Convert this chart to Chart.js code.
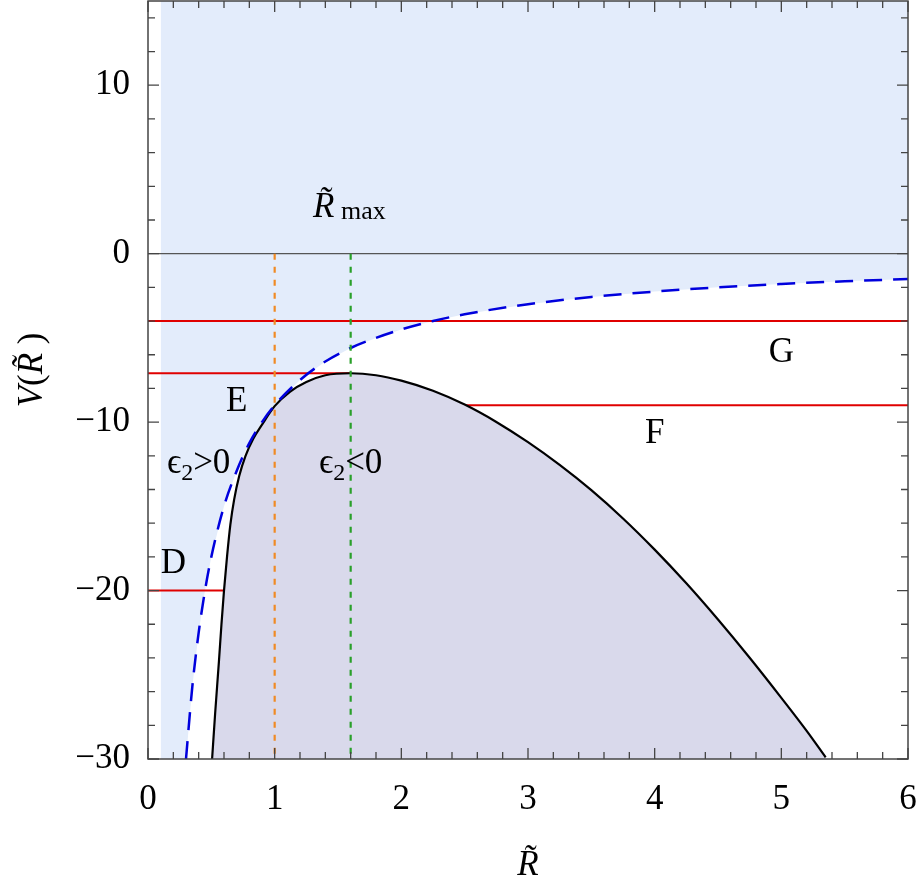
<!DOCTYPE html>
<html>
<head>
<meta charset="utf-8">
<script src="https://cdn.jsdelivr.net/npm/chart.js@4/dist/chart.umd.min.js"></script>
<style>
  html, body { margin: 0; padding: 0; background: #fff; }
  #wrap { width: 917px; height: 888px; }
</style>
</head>
<body>
<div id="wrap"><canvas id="potChart" width="917" height="888"></canvas></div>
<script>
// potential V(R) (black curve)
const potR = [0.506, 0.53, 0.56, 0.58, 0.60, 0.625, 0.65, 0.68, 0.72, 0.77, 0.83, 0.90, 1.00, 1.12, 1.25, 1.40, 1.60, 1.80, 2.00, 2.25, 2.50, 2.75, 3.00, 3.25, 3.50, 3.75, 4.00, 4.25, 4.50, 4.75, 5.00, 5.20, 5.35];
const potV = [-30, -27.3, -24.2, -22.0, -20.0, -17.9, -16.1, -14.6, -13.2, -12.0, -11.0, -10.15, -9.05, -8.2, -7.62, -7.22, -7.1, -7.22, -7.54, -8.14, -8.96, -9.99, -11.19, -12.54, -14.04, -15.72, -17.57, -19.57, -21.72, -23.99, -26.37, -28.33, -29.9];

// blue dashed boundary curve
const bndR = [0.30, 0.35, 0.40, 0.45, 0.50, 0.60, 0.70, 0.80, 0.90, 1.00, 1.20, 1.40, 1.60, 1.80, 2.00, 2.25, 2.50, 3.00, 3.50, 4.00, 4.50, 5.00, 5.50, 6.00];
const bndV = [-30, -25.7, -22.5, -20, -18, -15, -12.9, -11.25, -10, -9, -7.5, -6.4, -5.6, -5, -4.5, -4, -3.6, -3, -2.57, -2.25, -2, -1.8, -1.64, -1.5];

// shaded allowed region starts here
const shadeStart = 0.1;

// energy levels (red lines): [level, from, to]
const levelV = [-4, -7.1, -9, -20];
const levelFrom = [0, 0, 2.5, 0];
const levelTo = [6, 1.6, 6, 0.6];

// vertical markers
const rOne = 1;
const rMax = 1.6;

const xTicks = [0, 1, 2, 3, 4, 5, 6];
const yTicks = [-30, -20, -10, 0, 10];

const pts = (xs, ys) => xs.map((x, i) => ({ x: x, y: ys[i] }));

const blueRegion = [{ x: shadeStart, y: -30 }].concat(pts(bndR, bndV));

const serif = '"Liberation Serif", "DejaVu Serif", serif';

const datasets = [
    {   // light blue region above the dashed curve
        data: blueRegion, fill: 'end', backgroundColor: '#e3ecfb',
        borderWidth: 0, pointRadius: 0, order: 20
    },
    {   // potential curve with filled forbidden region
        data: pts(potR, potV), fill: 'start', backgroundColor: '#d9d9eb',
        borderColor: '#000', borderWidth: 2.2, pointRadius: 0, order: 5,
        cubicInterpolationMode: 'monotone'
    },
    {   // dashed boundary
        data: pts(bndR, bndV), fill: false, borderColor: '#0000dd',
        borderWidth: 2.5, borderDash: [18, 11], pointRadius: 0, order: 4,
        cubicInterpolationMode: 'monotone'
    },
    {   // V = 0 line
        data: [{ x: 0, y: 0 }, { x: 6, y: 0 }], borderColor: '#555',
        borderWidth: 1.2, pointRadius: 0, order: 10
    },
    {
        data: [{ x: rOne, y: 0 }, { x: rOne, y: -30 }], borderColor: '#f08a24',
        borderWidth: 2.2, borderDash: [6, 7], pointRadius: 0, order: 3
    },
    {
        data: [{ x: rMax, y: 0 }, { x: rMax, y: -30 }], borderColor: '#2aa02a',
        borderWidth: 2.2, borderDash: [6, 7], pointRadius: 0, order: 3
    }
];
levelV.forEach((v, i) => {
    datasets.push({
        data: [{ x: levelFrom[i], y: v }, { x: levelTo[i], y: v }],
        borderColor: '#e00000', borderWidth: 2, pointRadius: 0, order: 6
    });
});

// text labels in data coordinates
const notes = [
    { t: 'E', x: 0.7, y: -8.8 },
    { t: 'D', x: 0.2, y: -18.4 },
    { t: 'F', x: 4.0, y: -10.7 },
    { t: 'G', x: 5.0, y: -5.9 }
];

function drawSub(ctx, x, y, parts) {
    // parts: [text, font, dy]
    let w = 0;
    parts.forEach(p => { ctx.font = p[1]; w += ctx.measureText(p[0]).width; });
    let cx = x - w / 2;
    parts.forEach(p => {
        ctx.font = p[1];
        ctx.fillText(p[0], cx, y + p[2]);
        cx += ctx.measureText(p[0]).width;
    });
}

const framePlugin = {
    id: 'frame',
    afterDraw(chart) {
        const ctx = chart.ctx;
        const a = chart.chartArea;
        const xs = chart.scales.x, ys = chart.scales.y;
        ctx.save();
        ctx.strokeStyle = '#444';
        ctx.lineWidth = 1.5;
        ctx.strokeRect(a.left, a.top, a.right - a.left, a.bottom - a.top);
        ctx.lineWidth = 1.3;
        ctx.beginPath();
        for (let k = 0; k <= 30; k++) {
            const v = k * 0.2;
            const len = k % 5 === 0 ? 11 : 7;
            const px = xs.getPixelForValue(v);
            ctx.moveTo(px, a.bottom); ctx.lineTo(px, a.bottom - len);
            ctx.moveTo(px, a.top); ctx.lineTo(px, a.top + len);
        }
        for (let k = 0; k <= 22; k++) {
            const v = -30 + k * 2;
            const len = v % 10 === 0 ? 11 : 7;
            const py = ys.getPixelForValue(v);
            ctx.moveTo(a.left, py); ctx.lineTo(a.left + len, py);
            ctx.moveTo(a.right, py); ctx.lineTo(a.right - len, py);
        }
        ctx.stroke();

        ctx.fillStyle = '#000';
        ctx.textAlign = 'center';
        ctx.textBaseline = 'middle';
        ctx.font = '35px ' + serif;
        notes.forEach(n => {
            ctx.fillText(n.t, xs.getPixelForValue(n.x), ys.getPixelForValue(n.y));
        });

        ctx.textAlign = 'left';
        ctx.textBaseline = 'alphabetic';
        const big = '35px ' + serif, small = '24px ' + serif;
        drawSub(ctx, xs.getPixelForValue(0.4), ys.getPixelForValue(-13.0),
            [['\u03F5', big, 0], ['2', small, 7], ['>0', big, 0]]);
        drawSub(ctx, xs.getPixelForValue(1.6), ys.getPixelForValue(-13.0),
            [['\u03F5', big, 0], ['2', small, 7], ['<0', big, 0]]);
        drawSub(ctx, xs.getPixelForValue(1.59), ys.getPixelForValue(2.15),
            [['R\u0303', 'italic ' + big, 0], [' max', '26px ' + serif, 2]]);

        // y axis title, mixed italic/upright
        ctx.translate(33, ys.getPixelForValue(-6.9));
        ctx.rotate(-Math.PI / 2);
        ctx.textBaseline = 'middle';
        drawSub(ctx, 0, 0, [['V', 'italic ' + big, 0], ['(', big, 0], ['R\u0303', 'italic ' + big, 0], [' )', big, 0]]);
        ctx.restore();
    }
};

new Chart(document.getElementById('potChart'), {
    type: 'line',
    data: { datasets: datasets },
    options: {
        responsive: false,
        animation: false,
        parsing: false,
        layout: { padding: { top: 1, right: 9, bottom: 0, left: 0 } },
        plugins: { legend: { display: false }, tooltip: { enabled: false } },
        scales: {
            x: {
                type: 'linear', min: 0, max: 6,
                afterBuildTicks: s => { s.ticks = xTicks.map(v => ({ value: v })); },
                afterFit: s => { s.height = 129; s.paddingLeft = 0; s.paddingRight = 0; },
                grid: { display: false },
                border: { display: false },
                ticks: { font: { family: serif, size: 35 }, color: '#000', padding: 12, autoSkip: false, maxRotation: 0 },
                title: { display: true, text: 'R\u0303', font: { family: serif, size: 35, style: 'italic' }, color: '#000', padding: { top: 0, bottom: 1 } }
            },
            y: {
                type: 'linear', min: -30, max: 15,
                afterBuildTicks: s => { s.ticks = yTicks.map(v => ({ value: v })); },
                afterFit: s => { s.width = 148; s.paddingTop = 0; s.paddingBottom = 0; },
                grid: { display: false },
                border: { display: false },
                ticks: {
                    font: { family: serif, size: 35 }, color: '#000', padding: 10, autoSkip: false,
                    callback: v => String(v).replace('-', '\u2212')
                }
            }
        }
    },
    plugins: [framePlugin]
});
</script>
</body>
</html>
